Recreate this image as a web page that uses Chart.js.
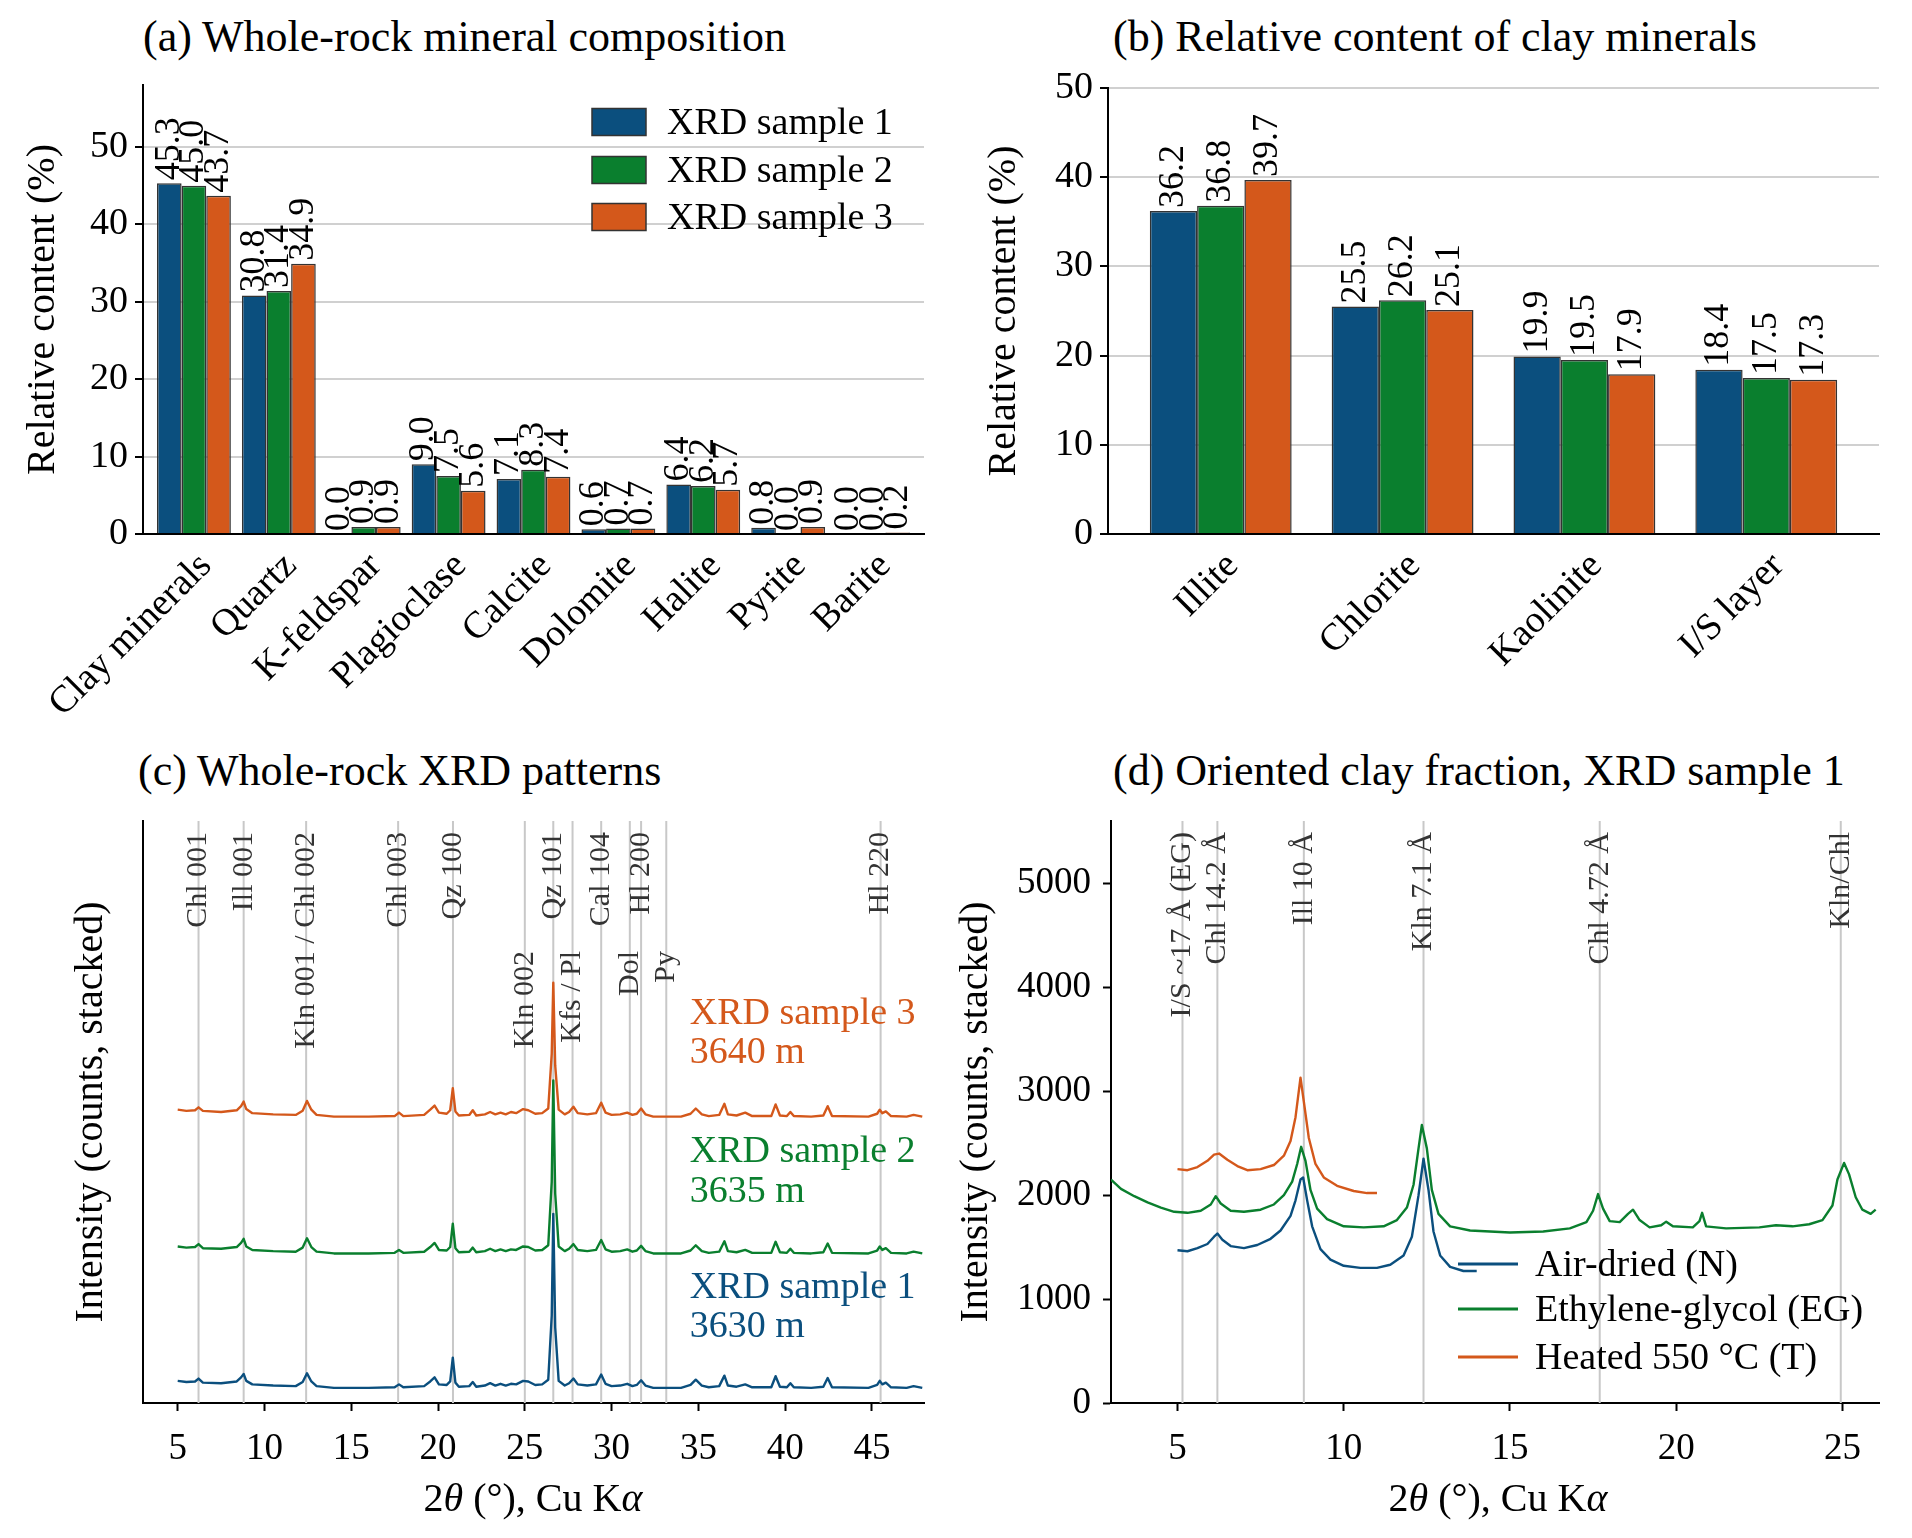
<!DOCTYPE html>
<html><head><meta charset="utf-8">
<script src="https://cdn.jsdelivr.net/npm/chart.js@4.4.1/dist/chart.umd.min.js"></script>
<style>
html,body{margin:0;padding:0;background:#fff;}
body{width:1912px;height:1538px;position:relative;overflow:hidden;font-family:"Liberation Serif","Times New Roman",serif;color:#000;}
canvas{position:absolute;}
.ttl{position:absolute;font-size:44px;line-height:44px;white-space:nowrap;}
.xl{position:absolute;font-size:40px;line-height:40px;white-space:nowrap;transform:translateX(-50%);}
</style></head>
<body>
<div class="ttl" style="left:143px;top:15px">(a) Whole-rock mineral composition</div>
<div class="ttl" style="left:1113px;top:15px">(b) Relative content of clay minerals</div>
<div class="ttl" style="left:138px;top:749px">(c) Whole-rock XRD patterns</div>
<div class="ttl" style="left:1113px;top:749px">(d) Oriented clay fraction, XRD sample 1</div>
<canvas id="ca" width="956" height="700" style="left:0;top:70px;width:956px;height:700px"></canvas>
<canvas id="cb" width="956" height="700" style="left:956px;top:70px;width:956px;height:700px"></canvas>
<canvas id="cc" width="956" height="738" style="left:0;top:800px;width:956px;height:738px"></canvas>
<canvas id="cd" width="972" height="738" style="left:940px;top:800px;width:972px;height:738px"></canvas>
<div class="xl" style="left:533px;top:1478px">2<i>θ</i> (°), Cu K<i>α</i></div>
<div class="xl" style="left:1498px;top:1478px">2<i>θ</i> (°), Cu K<i>α</i></div>
<script>
// ---------- data ----------
const mineralCats = ['Clay minerals','Quartz','K-feldspar','Plagioclase','Calcite','Dolomite','Halite','Pyrite','Barite'];
const rockS1 = [45.3,30.8,0.0,9.0,7.1,0.6,6.4,0.8,0.0];
const rockS2 = [45.0,31.4,0.9,7.5,8.3,0.7,6.2,0.0,0.0];
const rockS3 = [43.7,34.9,0.9,5.6,7.4,0.7,5.7,0.9,0.2];

const clayCats = ['Illite','Chlorite','Kaolinite','I/S layer'];
const clayS1 = [36.2,25.5,19.9,18.4];
const clayS2 = [36.8,26.2,19.5,17.5];
const clayS3 = [39.7,25.1,17.9,17.3];

const sampleNames = ['XRD sample 1','XRD sample 2','XRD sample 3'];
const sampleDepths = ['3630 m','3635 m','3640 m'];
const pctTicksA = [0,10,20,30,40,50];
const pctTicksB = [0,10,20,30,40,50];
const thetaTicksC = [5,10,15,20,25,30,35,40,45];
const thetaTicksD = [5,10,15,20,25];
const countTicksD = [0,1000,2000,3000,4000,5000];

// whole-rock patterns (2theta, stacked intensity, arbitrary units)
const xrdS1 = [[5.0,3.8],[5.5,3.6],[6.0,3.7],[6.2,4.2],[6.45,3.5],[7.5,3.4],[8.4,3.7],[8.65,4.4],[8.8,5.0],[8.95,3.8],[9.3,3.2],[10.5,3.0],[11.8,2.9],[12.2,3.6],[12.45,5.1],[12.7,3.7],[13.0,2.9],[14.0,2.6],[16.0,2.6],[17.5,2.7],[17.75,3.2],[18.0,2.7],[19.2,2.9],[19.55,3.7],[19.8,4.4],[20.05,3.2],[20.5,3.1],[20.7,3.7],[20.85,7.8],[21.0,3.5],[21.2,2.8],[21.8,2.9],[22.0,3.6],[22.2,2.8],[22.7,3.0],[23.0,3.4],[23.3,3.0],[23.6,3.3],[23.9,3.0],[24.2,3.3],[24.5,3.2],[24.9,3.8],[25.2,3.7],[25.6,3.1],[26.0,3.2],[26.35,4.0],[26.55,15.0],[26.64,32.5],[26.75,13.0],[26.95,3.8],[27.3,3.0],[27.55,3.4],[27.8,4.2],[28.05,3.2],[28.6,3.0],[29.1,3.2],[29.4,4.9],[29.65,3.3],[30.0,2.9],[30.5,3.0],[30.9,3.3],[31.2,2.9],[31.45,3.1],[31.7,3.9],[31.95,3.0],[32.4,2.6],[34.0,2.6],[34.55,3.1],[34.85,4.0],[35.2,3.0],[35.6,2.7],[36.2,2.9],[36.5,4.7],[36.7,3.0],[37.2,2.8],[37.7,3.2],[38.1,2.7],[39.2,2.7],[39.45,4.6],[39.7,2.8],[40.1,2.7],[40.3,3.4],[40.5,2.7],[41.5,2.6],[42.2,2.8],[42.45,4.3],[42.7,2.7],[44.8,2.6],[45.3,3.1],[45.45,3.8],[45.6,3.2],[45.8,3.5],[46.1,2.7],[47.0,2.6],[47.4,2.9],[47.9,2.6]];
const xrdS2 = [[5.0,26.9],[5.5,26.7],[6.0,26.8],[6.2,27.3],[6.45,26.6],[7.5,26.5],[8.4,26.8],[8.65,27.5],[8.8,28.2],[8.95,26.9],[9.3,26.3],[10.5,26.1],[11.8,26.0],[12.2,26.7],[12.45,28.3],[12.7,26.8],[13.0,26.0],[14.0,25.7],[16.0,25.7],[17.5,25.8],[17.75,26.3],[18.0,25.8],[19.2,26.0],[19.55,26.8],[19.8,27.5],[20.05,26.3],[20.5,26.2],[20.7,26.8],[20.85,30.8],[21.0,26.6],[21.2,25.9],[21.8,26.0],[22.0,26.7],[22.2,25.9],[22.7,26.1],[23.0,26.5],[23.3,26.1],[23.6,26.4],[23.9,26.1],[24.2,26.4],[24.5,26.3],[24.9,26.9],[25.2,26.8],[25.6,26.2],[26.0,26.3],[26.35,27.1],[26.55,38.0],[26.64,55.4],[26.75,36.0],[26.95,26.9],[27.3,26.1],[27.55,26.5],[27.8,27.3],[28.05,26.3],[28.6,26.1],[29.1,26.3],[29.4,28.0],[29.65,26.4],[30.0,26.0],[30.5,26.1],[30.9,26.4],[31.2,26.0],[31.45,26.2],[31.7,27.0],[31.95,26.1],[32.4,25.7],[34.0,25.7],[34.55,26.2],[34.85,27.1],[35.2,26.1],[35.6,25.8],[36.2,26.0],[36.5,27.8],[36.7,26.1],[37.2,25.9],[37.7,26.3],[38.1,25.8],[39.2,25.8],[39.45,27.7],[39.7,25.9],[40.1,25.8],[40.3,26.5],[40.5,25.8],[41.5,25.7],[42.2,25.9],[42.45,27.4],[42.7,25.8],[44.8,25.7],[45.3,26.2],[45.45,26.9],[45.6,26.3],[45.8,26.6],[46.1,25.8],[47.0,25.7],[47.4,26.0],[47.9,25.7]];
const xrdS3 = [[5.0,50.4],[5.5,50.2],[6.0,50.3],[6.2,50.8],[6.45,50.2],[7.5,50.0],[8.4,50.3],[8.65,51.0],[8.8,51.8],[8.95,50.5],[9.3,49.8],[10.5,49.6],[11.8,49.5],[12.2,50.2],[12.45,51.9],[12.7,50.4],[13.0,49.5],[14.0,49.2],[16.0,49.2],[17.5,49.3],[17.75,49.9],[18.0,49.3],[19.2,49.5],[19.55,50.4],[19.8,51.1],[20.05,49.9],[20.5,49.7],[20.7,50.3],[20.85,54.1],[21.0,50.1],[21.2,49.4],[21.8,49.5],[22.0,50.3],[22.2,49.4],[22.7,49.6],[23.0,50.0],[23.3,49.6],[23.6,49.9],[23.9,49.6],[24.2,50.0],[24.5,49.8],[24.9,50.5],[25.2,50.3],[25.6,49.7],[26.0,49.8],[26.35,50.6],[26.55,60.0],[26.64,72.2],[26.75,58.0],[26.95,50.4],[27.3,49.6],[27.55,50.0],[27.8,50.9],[28.05,49.8],[28.6,49.6],[29.1,49.8],[29.4,51.6],[29.65,49.9],[30.0,49.5],[30.5,49.6],[30.9,49.9],[31.2,49.5],[31.45,49.7],[31.7,50.6],[31.95,49.6],[32.4,49.2],[34.0,49.2],[34.55,49.7],[34.85,50.6],[35.2,49.6],[35.6,49.3],[36.2,49.5],[36.5,51.4],[36.7,49.6],[37.2,49.4],[37.7,49.9],[38.1,49.3],[39.2,49.3],[39.45,51.3],[39.7,49.4],[40.1,49.3],[40.3,50.0],[40.5,49.3],[41.5,49.2],[42.2,49.4],[42.45,51.0],[42.7,49.3],[44.8,49.2],[45.3,49.7],[45.45,50.4],[45.6,49.8],[45.8,50.1],[46.1,49.3],[47.0,49.2],[47.4,49.5],[47.9,49.2]];

const rockRefPos = [6.2,8.8,12.4,17.7,20.86,25.0,26.64,27.75,29.4,31.05,31.7,33.15,45.5];
const rockRefNames = ['Chl 001','Ill 001','Kln 001 / Chl 002','Chl 003','Qz 100','Kln 002','Qz 101','Kfs / Pl','Cal 104','Dol','Hl 200','Py','Hl 220'];
const rockRefRow = [0,0,0,0,0,1,0,1,0,1,0,1,0];

// oriented clay fraction (2theta, counts)
const clayN = [[5.0,1470],[5.3,1460],[5.6,1490],[5.9,1530],[6.1,1600],[6.2,1630],[6.35,1570],[6.6,1510],[7.0,1490],[7.4,1520],[7.8,1580],[8.1,1660],[8.4,1800],[8.55,1950],[8.7,2150],[8.78,2170],[8.9,1950],[9.05,1700],[9.3,1480],[9.6,1380],[10.0,1320],[10.5,1300],[11.0,1300],[11.4,1330],[11.8,1420],[12.05,1600],[12.25,2000],[12.4,2350],[12.55,2050],[12.7,1650],[12.9,1420],[13.2,1310],[13.6,1270],[14.0,1270]];
const clayEG = [[3.0,2150],[3.3,2060],[3.7,1990],[4.1,1930],[4.5,1880],[4.9,1840],[5.3,1830],[5.7,1850],[6.0,1910],[6.15,1990],[6.3,1920],[6.6,1850],[7.0,1840],[7.5,1860],[7.9,1910],[8.2,2000],[8.45,2130],[8.6,2300],[8.72,2465],[8.85,2330],[9.0,2050],[9.2,1870],[9.5,1770],[10.0,1700],[10.6,1690],[11.2,1700],[11.6,1760],[11.9,1880],[12.1,2100],[12.25,2450],[12.35,2675],[12.5,2450],[12.65,2050],[12.85,1820],[13.2,1700],[13.8,1660],[15.0,1640],[16.0,1650],[16.8,1680],[17.3,1740],[17.5,1850],[17.65,2010],[17.8,1870],[18.0,1750],[18.3,1740],[18.55,1820],[18.7,1860],[18.9,1760],[19.2,1690],[19.55,1710],[19.7,1745],[19.9,1700],[20.5,1690],[20.7,1750],[20.78,1830],[20.9,1700],[21.5,1680],[22.5,1690],[23.0,1710],[23.5,1700],[24.0,1720],[24.4,1760],[24.7,1900],[24.85,2150],[25.05,2310],[25.2,2200],[25.4,1980],[25.6,1860],[25.85,1820],[26.0,1860]];
const clayT = [[5.0,2250],[5.3,2240],[5.6,2270],[5.9,2330],[6.1,2390],[6.25,2400],[6.5,2340],[6.8,2280],[7.1,2240],[7.5,2250],[7.9,2290],[8.2,2380],[8.4,2520],[8.55,2750],[8.7,3130],[8.8,2900],[8.95,2550],[9.15,2300],[9.4,2170],[9.8,2090],[10.3,2040],[10.7,2020],[11.0,2020]];
const clayTreatments = ['Air-dried (N)','Ethylene-glycol (EG)','Heated 550 °C (T)'];

const clayRefPos = [5.15,6.2,8.8,12.4,17.7,24.95];
const clayRefNames = ['I/S ~17 Å (EG)','Chl 14.2 Å','Ill 10 Å','Kln 7.1 Å','Chl 4.72 Å','Kln/Chl'];

// ---------- styles / layout ----------
const COLORS = ['#0b4f7e','#0a7f2e','#d4581b'];
const FONT = '"Liberation Serif", "Times New Roman", serif';
const sampleLabelAt = {x:34.5, y:[[19.8,13.1],[43.1,36.3],[66.8,60.1]]};

Chart.defaults.font.family = FONT;
Chart.defaults.color = '#000';

const toXY = arr => arr.map(p => ({x:p[0], y:p[1]}));
const toBars = vals => vals.map((v,i) => ({x:i, y:v}));

const valueLabels = {
  id:'valueLabels',
  afterDatasetsDraw(chart, args, o){
    const ctx = chart.ctx;
    ctx.save();
    ctx.font = o.size + 'px ' + FONT;
    ctx.fillStyle = '#000';
    ctx.textAlign = 'left';
    ctx.textBaseline = 'middle';
    chart.data.datasets.forEach((ds, di) => {
      chart.getDatasetMeta(di).data.forEach((el, i) => {
        ctx.save();
        ctx.translate(el.x, el.y - o.gap);
        ctx.rotate(-Math.PI/2);
        ctx.fillText(ds.data[i].y.toFixed(1), 0, 0);
        ctx.restore();
      });
    });
    ctx.restore();
  }
};

const boxLegend = {
  id:'boxLegend',
  afterDraw(chart, args, o){
    if (!o.rows.length) return;
    const {ctx, chartArea} = chart;
    ctx.save();
    ctx.font = o.size + 'px ' + FONT;
    ctx.textBaseline = 'middle';
    ctx.textAlign = 'left';
    chart.data.datasets.forEach((ds, i) => {
      const cy = chartArea.top + o.rows[i];
      const bx = chartArea.right - o.boxFromRight;
      ctx.fillStyle = ds.backgroundColor;
      ctx.fillRect(bx, cy - o.boxH/2, o.boxW, o.boxH);
      ctx.strokeStyle = '#333'; ctx.lineWidth = 1.5;
      ctx.strokeRect(bx, cy - o.boxH/2, o.boxW, o.boxH);
      ctx.fillStyle = '#000';
      ctx.fillText(ds.label, chartArea.right - o.textFromRight, cy + 2);
    });
    ctx.restore();
  }
};

const lineLegend = {
  id:'lineLegend',
  afterDraw(chart, args, o){
    const {ctx, chartArea} = chart;
    ctx.save();
    ctx.font = o.size + 'px ' + FONT;
    ctx.textBaseline = 'middle';
    ctx.textAlign = 'left';
    chart.data.datasets.forEach((ds, i) => {
      const cy = chartArea.bottom - o.rows[i];
      ctx.strokeStyle = ds.borderColor; ctx.lineWidth = 3;
      ctx.beginPath();
      ctx.moveTo(chartArea.right - o.lineFromRight, cy);
      ctx.lineTo(chartArea.right - o.lineFromRight + o.lineLen, cy);
      ctx.stroke();
      ctx.fillStyle = '#000';
      ctx.fillText(ds.label, chartArea.right - o.textFromRight, cy + 2);
    });
    ctx.restore();
  }
};

const refLines = {
  id:'refLines',
  beforeDatasetsDraw(chart, args, o){
    const {ctx, chartArea:{top,bottom}, scales:{x}} = chart;
    ctx.save();
    ctx.strokeStyle = '#c8c8c8'; ctx.lineWidth = 2;
    o.pos.forEach(p => {
      const px = x.getPixelForValue(p);
      ctx.beginPath(); ctx.moveTo(px, top); ctx.lineTo(px, bottom); ctx.stroke();
    });
    ctx.font = o.size + 'px ' + FONT;
    ctx.fillStyle = '#333';
    ctx.textAlign = 'right';
    ctx.textBaseline = 'middle';
    o.pos.forEach((p, i) => {
      const px = x.getPixelForValue(p);
      const row = o.rows ? o.rows[i] : 0;
      ctx.save();
      ctx.translate(px, top + o.offsets[row]);
      ctx.rotate(-Math.PI/2);
      ctx.fillText(o.names[i], 0, 0);
      ctx.restore();
    });
    ctx.restore();
  }
};

const sampleLabels = {
  id:'sampleLabels',
  afterDatasetsDraw(chart, args, o){
    const {ctx, scales:{x,y}} = chart;
    ctx.save();
    ctx.font = o.size + 'px ' + FONT;
    ctx.textAlign = 'left';
    ctx.textBaseline = 'middle';
    sampleNames.forEach((n, i) => {
      ctx.fillStyle = COLORS[i];
      const px = x.getPixelForValue(sampleLabelAt.x);
      ctx.fillText(n, px, y.getPixelForValue(sampleLabelAt.y[i][0]));
      ctx.fillText(sampleDepths[i], px, y.getPixelForValue(sampleLabelAt.y[i][1]));
    });
    ctx.restore();
  }
};

const base = { responsive:false, animation:false, devicePixelRatio:1, events:[] };
const spine = {display:true, color:'#000', width:2};
const fixX = h => s => { s.height = h; s.paddingLeft = 0; s.paddingRight = 0; s.paddingTop = 0; s.paddingBottom = 0; };
const fixY = w => s => { s.width = w; s.paddingLeft = 0; s.paddingRight = 0; s.paddingTop = 0; s.paddingBottom = 0; };

function barChart(id, cats, series, xr, catPct, ymax, yTicks, yWidth, xHeight, pad, titlePad, legendOpts){
  return new Chart(document.getElementById(id), {
    type:'bar',
    data:{datasets: series.map((s,i) => ({
      label: sampleNames[i], data: toBars(s), backgroundColor: COLORS[i],
      borderColor:'#333', borderWidth:1.5, categoryPercentage:catPct, barPercentage:1.0
    }))},
    plugins:[valueLabels, boxLegend],
    options:Object.assign({}, base, {
      layout:{padding:pad},
      plugins:{legend:{display:false}, tooltip:{enabled:false},
        valueLabels:{size:36, gap:3},
        boxLegend: legendOpts
      },
      scales:{
        x:{type:'linear', min:xr[0], max:xr[1], offset:false,
          grid:{display:false, offset:false}, border:spine,
          afterBuildTicks: s => { s.ticks = cats.map((c,i) => ({value:i})); },
          ticks:{autoSkip:false, minRotation:45, maxRotation:45, padding:2, labelOffset:12, font:{size:38}, callback: v => cats[v]},
          afterFit: fixX(xHeight)
        },
        y:{min:0, max:ymax,
          grid:{color: c => c.tick && c.tick.value === 0 ? 'rgba(0,0,0,0)' : '#d0d0d0', lineWidth:2, drawTicks:true, tickLength:8, tickColor:'#000', tickWidth:2},
          border:spine,
          afterBuildTicks: s => { s.ticks = yTicks.map(v => ({value:v})); },
          ticks:{padding:7, font:{size:38}, callback: v => String(v)},
          title:{display:true, text:'Relative content (%)', font:{size:40}, padding:{top:titlePad, bottom:0}},
          afterFit: fixY(yWidth)
        }
      }
    })
  });
}

barChart('ca', mineralCats, [rockS1, rockS2, rockS3], [-0.6, 8.6], 0.87, 58, pctTicksA, 143, 236,
  {top:15, right:32, left:0, bottom:0}, 19,
  {size:38, rows:[37,85,132], boxFromRight:332, boxW:54, boxH:27, textFromRight:257});
barChart('cb', clayCats, [clayS1, clayS2, clayS3], [-0.62, 3.62], 0.78, 50, pctTicksB, 152, 236,
  {top:18, right:33, left:0, bottom:0}, 24,
  {size:38, rows:[], boxFromRight:0, boxW:0, boxH:0, textFromRight:0});

// (c) whole-rock XRD patterns
new Chart(document.getElementById('cc'), {
  type:'line',
  data:{datasets:[xrdS1, xrdS2, xrdS3].map((s,i) => ({
    label: sampleNames[i], data: toXY(s), borderColor: COLORS[i], borderWidth:2.4,
    pointRadius:0, tension:0, fill:false, borderJoinStyle:'round'
  }))},
  plugins:[refLines, sampleLabels],
  options:Object.assign({}, base, {
    layout:{padding:{top:21, right:32, left:0, bottom:0}},
    plugins:{legend:{display:false}, tooltip:{enabled:false},
      refLines:{pos:rockRefPos, names:rockRefNames, rows:rockRefRow, offsets:[11,130], size:30},
      sampleLabels:{size:38}
    },
    scales:{
      x:{type:'linear', min:3, max:48,
        grid:{display:true, drawOnChartArea:false, drawTicks:true, tickLength:8, color:'#000', tickColor:'#000', tickWidth:2},
        border:spine,
        afterBuildTicks: s => { s.ticks = thetaTicksC.map(v => ({value:v})); },
        ticks:{padding:16, font:{size:37}, maxRotation:0, autoSkip:false, callback: v => String(v)},
        afterFit: fixX(135)
      },
      y:{type:'linear', min:0, max:100,
        grid:{display:false}, border:spine,
        ticks:{display:false},
        title:{display:true, text:'Intensity (counts, stacked)', font:{size:40}, padding:{top:67, bottom:0}},
        afterFit: fixY(143)
      }
    }
  })
});

// (d) oriented clay fraction
new Chart(document.getElementById('cd'), {
  type:'line',
  data:{datasets:[clayN, clayEG, clayT].map((s,i) => ({
    label: clayTreatments[i], data: toXY(s), borderColor: COLORS[i], borderWidth:2.4,
    pointRadius:0, tension:0, fill:false, borderJoinStyle:'round'
  }))},
  plugins:[refLines, lineLegend],
  options:Object.assign({}, base, {
    layout:{padding:{top:21, right:33, left:0, bottom:0}},
    plugins:{legend:{display:false}, tooltip:{enabled:false},
      refLines:{pos:clayRefPos, names:clayRefNames, offsets:[11], size:30},
      lineLegend:{size:38, rows:[139,94,46], lineFromRight:421, lineLen:60, textFromRight:344}
    },
    scales:{
      x:{type:'linear', min:3, max:26.1,
        grid:{display:true, drawOnChartArea:false, drawTicks:true, tickLength:8, color:'#000', tickColor:'#000', tickWidth:2},
        border:spine,
        afterBuildTicks: s => { s.ticks = thetaTicksD.map(v => ({value:v})); },
        ticks:{padding:16, font:{size:37}, maxRotation:0, autoSkip:false, callback: v => String(v)},
        afterFit: fixX(135)
      },
      y:{type:'linear', min:0, max:5600,
        grid:{display:true, drawOnChartArea:false, drawTicks:true, tickLength:8, color:'#000', tickColor:'#000', tickWidth:2},
        border:spine,
        afterBuildTicks: s => { s.ticks = countTicksD.map(v => ({value:v})); },
        ticks:{padding:12, font:{size:37}, callback: v => String(v)},
        title:{display:true, text:'Intensity (counts, stacked)', font:{size:40}, padding:{top:12, bottom:0}},
        afterFit: fixY(171)
      }
    }
  })
});
</script>
</body></html>
